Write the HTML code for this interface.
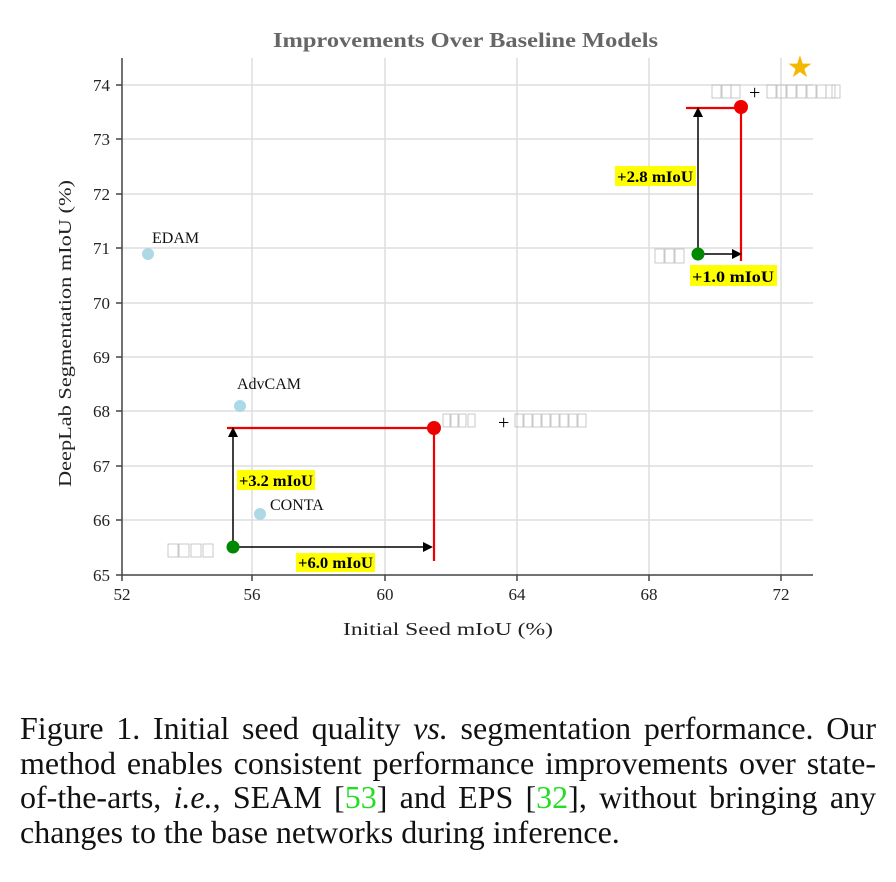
<!DOCTYPE html><html><head><style>body{margin:0;background:#fff;width:896px;height:882px;overflow:hidden}
.c{position:absolute;left:20px;top:711px;width:856px;font:32px "Liberation Serif",serif;line-height:34.5px;color:#111;word-spacing:-3px}
.c div{text-align:justify;text-align-last:justify;white-space:nowrap}
.c div.l{text-align-last:left;word-spacing:0}
.g{color:#22dd22}</style></head><body>
<svg width="896" height="700" style="position:absolute;left:0;top:0" font-family="Liberation Serif, serif">
<g stroke="#ddd" stroke-width="1.5">
<line x1="252" y1="58" x2="252" y2="575"/><line x1="385" y1="58" x2="385" y2="575"/><line x1="517" y1="58" x2="517" y2="575"/><line x1="649" y1="58" x2="649" y2="575"/><line x1="781" y1="58" x2="781" y2="575"/>
<line x1="122" y1="85" x2="813" y2="85"/><line x1="122" y1="139" x2="813" y2="139"/><line x1="122" y1="194" x2="813" y2="194"/><line x1="122" y1="248" x2="813" y2="248"/><line x1="122" y1="303" x2="813" y2="303"/><line x1="122" y1="357" x2="813" y2="357"/><line x1="122" y1="411" x2="813" y2="411"/><line x1="122" y1="466" x2="813" y2="466"/><line x1="122" y1="520" x2="813" y2="520"/>
</g>
<g stroke="#444" stroke-width="1.5"><line x1="122" y1="58" x2="122" y2="575"/><line x1="122" y1="575" x2="813" y2="575"/>
<line x1="122" y1="575" x2="122" y2="581"/><line x1="252" y1="575" x2="252" y2="581"/><line x1="385" y1="575" x2="385" y2="581"/><line x1="517" y1="575" x2="517" y2="581"/><line x1="649" y1="575" x2="649" y2="581"/><line x1="781" y1="575" x2="781" y2="581"/>
<line x1="116" y1="85" x2="122" y2="85"/><line x1="116" y1="139" x2="122" y2="139"/><line x1="116" y1="194" x2="122" y2="194"/><line x1="116" y1="248" x2="122" y2="248"/><line x1="116" y1="303" x2="122" y2="303"/><line x1="116" y1="357" x2="122" y2="357"/><line x1="116" y1="411" x2="122" y2="411"/><line x1="116" y1="466" x2="122" y2="466"/><line x1="116" y1="520" x2="122" y2="520"/><line x1="116" y1="575" x2="122" y2="575"/></g>
<g font-size="17" fill="#222" text-anchor="middle"><text x="122" y="600">52</text><text x="252" y="600">56</text><text x="385" y="600">60</text><text x="517" y="600">64</text><text x="649" y="600">68</text><text x="781" y="600">72</text></g>
<g font-size="17" fill="#222" text-anchor="end"><text x="110" y="91">74</text><text x="110" y="145">73</text><text x="110" y="200">72</text><text x="110" y="254">71</text><text x="110" y="309">70</text><text x="110" y="363">69</text><text x="110" y="417">68</text><text x="110" y="472">67</text><text x="110" y="526">66</text><text x="110" y="581">65</text></g>
<text x="273" y="47" font-size="21" font-weight="bold" fill="#666" textLength="385" lengthAdjust="spacingAndGlyphs">Improvements Over Baseline Models</text>
<text x="343" y="635" font-size="18" fill="#222" textLength="210" lengthAdjust="spacingAndGlyphs">Initial Seed mIoU (%)</text>
<text transform="translate(71,487) rotate(-90)" font-size="18" fill="#222" textLength="307" lengthAdjust="spacingAndGlyphs">DeepLab Segmentation mIoU (%)</text>
<g fill="#add8e6"><circle cx="148" cy="254" r="6"/><circle cx="240" cy="406" r="6"/><circle cx="260" cy="514" r="6"/></g>
<g font-size="16" fill="#111"><text x="152" y="243">EDAM</text><text x="237" y="389">AdvCAM</text><text x="270" y="510">CONTA</text></g>
<g stroke="#e00" stroke-width="2.2" fill="none"><path d="M227 428H434V561"/><path d="M686 108H741V261"/></g>
<g stroke="#000" stroke-width="1.5"><line x1="233" y1="547" x2="233" y2="436"/><line x1="233" y1="547" x2="424" y2="547"/><line x1="698" y1="254" x2="698" y2="116"/><line x1="698" y1="254" x2="733" y2="254"/></g>
<g fill="#000"><path d="M228 437L233 427L238 437Z"/><path d="M423 542L433 547L423 552Z"/><path d="M693 117L698 107L703 117Z"/><path d="M732 249L742 254L732 259Z"/></g>
<g fill="#080"><circle cx="233" cy="547" r="6.5"/><circle cx="698" cy="254" r="6.5"/></g>
<g fill="#e00"><circle cx="434" cy="428" r="7"/><circle cx="741" cy="107" r="7"/></g>
<text x="800" y="77" font-size="30" fill="#f5b800" text-anchor="middle">★</text>
<g fill="#ff0"><rect x="237" y="470" width="78" height="20"/><rect x="296" y="553" width="79" height="19"/><rect x="615" y="166" width="81" height="20"/><rect x="690" y="265" width="87" height="21"/></g>
<g font-size="16" font-weight="bold" fill="#000"><text x="239" y="486" textLength="74" lengthAdjust="spacingAndGlyphs">+3.2 mIoU</text><text x="298" y="568" textLength="75" lengthAdjust="spacingAndGlyphs">+6.0 mIoU</text><text x="617" y="182" textLength="76" lengthAdjust="spacingAndGlyphs">+2.8 mIoU</text><text x="692" y="282" textLength="82" lengthAdjust="spacingAndGlyphs">+1.0 mIoU</text></g>
<g fill="none" stroke="#bbb" stroke-width="0.8">
<rect x="712" y="85" width="9" height="13"/><rect x="722" y="85" width="9" height="13"/><rect x="731" y="85" width="9" height="13"/>
<rect x="767" y="85" width="9" height="13"/><rect x="777" y="85" width="9" height="13"/><rect x="787" y="85" width="9" height="13"/><rect x="797" y="85" width="9" height="13"/><rect x="807" y="85" width="9" height="13"/><rect x="817" y="85" width="9" height="13"/><rect x="826" y="85" width="9" height="13"/><rect x="832" y="85" width="8" height="13"/>
<rect x="443" y="414" width="7" height="13"/><rect x="451" y="414" width="7" height="13"/><rect x="459" y="414" width="7" height="13"/><rect x="468" y="414" width="7" height="13"/>
<rect x="515" y="414" width="8" height="13"/><rect x="524" y="414" width="8" height="13"/><rect x="533" y="414" width="8" height="13"/><rect x="542" y="414" width="8" height="13"/><rect x="551" y="414" width="8" height="13"/><rect x="560" y="414" width="8" height="13"/><rect x="569" y="414" width="8" height="13"/><rect x="578" y="414" width="8" height="13"/>
<rect x="168" y="544" width="10" height="13"/><rect x="179" y="544" width="10" height="13"/><rect x="191" y="544" width="10" height="13"/><rect x="203" y="544" width="10" height="13"/>
<rect x="655" y="249" width="9" height="14"/><rect x="665" y="249" width="9" height="14"/><rect x="675" y="249" width="9" height="14"/></g>
<g font-size="20" fill="#000"><text x="749" y="99">+</text><text x="498" y="429">+</text></g>
</svg>
<div class="c">
<div>Figure 1. Initial seed quality <i>vs.</i> segmentation performance. Our</div>
<div>method enables consistent performance improvements over state-</div>
<div>of-the-arts, <i>i.e.</i>, SEAM [<span class="g">53</span>] and EPS [<span class="g">32</span>], without bringing any</div>
<div class="l">changes to the base networks during inference.</div>
</div>
</body></html>
